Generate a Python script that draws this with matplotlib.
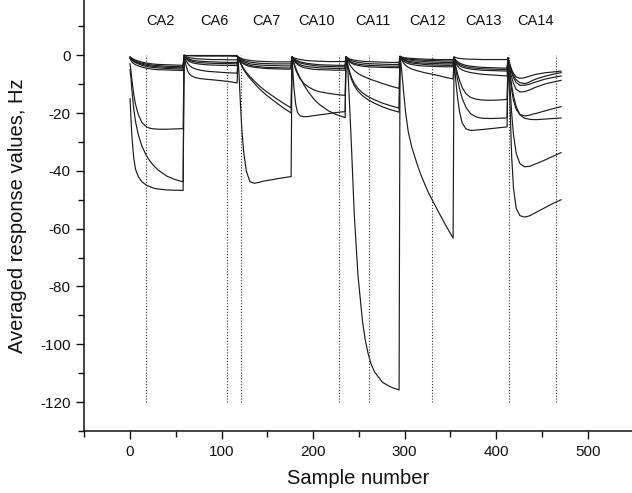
import matplotlib
matplotlib.use("Agg")
import matplotlib.pyplot as plt
from matplotlib.ticker import MultipleLocator

plt.rcParams['font.family'] = ['Liberation Sans', 'DejaVu Sans']
plt.rcParams['axes.unicode_minus'] = False

# ---- data ----
segment_names = ["CA2", "CA6", "CA7", "CA10", "CA11", "CA12", "CA13", "CA14"]
segment_starts = [0, 59, 118, 177, 236, 295, 354, 413]
label_x = [33, 92, 149, 204, 265, 325, 386, 443]
marker_x = [17.7, 105.7, 121.6, 228.6, 260.8, 330.0, 413.6, 465.6]
offsets = [0, 1, 2, 4, 6, 9, 13, 18, 21, 24, 27, 31, 40, 49, 58]

ca2 = [
    [-0.5, -0.8, -1.0, -1.4, -1.7, -2.0, -2.4, -2.7, -2.85, -3.0, -3.1, -3.2, -3.3, -3.4, -3.5],
    [-0.7, -1.0, -1.3, -1.7, -2.0, -2.4, -2.8, -3.1, -3.25, -3.4, -3.5, -3.6, -3.8, -3.9, -4.0],
    [-0.9, -1.2, -1.5, -1.9, -2.3, -2.7, -3.1, -3.5, -3.65, -3.8, -3.9, -4.0, -4.2, -4.3, -4.4],
    [-1.0, -1.4, -1.7, -2.2, -2.6, -3.0, -3.5, -3.9, -4.05, -4.2, -4.3, -4.4, -4.6, -4.7, -4.8],
    [-1.2, -1.8, -2.3, -2.9, -3.3, -3.7, -4.1, -4.5, -4.65, -4.8, -4.9, -5.0, -5.1, -5.2, -5.3],
    [-3.0, -5.5, -8.5, -13.5, -17.0, -20.5, -23.3, -24.8, -25.2, -25.4, -25.5, -25.6, -25.6, -25.5, -25.4],
    [-5.0, -8.0, -12.0, -18.5, -23.0, -27.5, -31.5, -34.8, -36.3, -37.5, -38.6, -39.8, -41.8, -43.0, -43.8],
    [-15.0, -22.0, -28.0, -35.5, -39.5, -42.0, -43.8, -45.0, -45.4, -45.8, -46.1, -46.3, -46.6, -46.7, -46.8],
]
ca6 = [
    [0.0, 0.0, -0.1, -0.1, -0.1, -0.1, -0.1, -0.1, -0.1, -0.1, -0.1, -0.1, -0.1, -0.1, -0.1],
    [0.0, -0.1, -0.1, -0.2, -0.2, -0.2, -0.3, -0.3, -0.3, -0.3, -0.3, -0.3, -0.3, -0.3, -0.4],
    [-0.1, -0.3, -0.5, -0.7, -0.9, -1.0, -1.2, -1.3, -1.35, -1.4, -1.45, -1.5, -1.5, -1.6, -1.6],
    [-0.1, -0.4, -0.7, -1.1, -1.4, -1.7, -1.9, -2.1, -2.15, -2.2, -2.25, -2.3, -2.4, -2.5, -2.5],
    [-0.1, -0.5, -0.9, -1.4, -1.8, -2.1, -2.4, -2.6, -2.65, -2.7, -2.75, -2.8, -2.9, -2.9, -3.0],
    [-0.1, -0.6, -1.1, -1.7, -2.2, -2.6, -2.9, -3.1, -3.2, -3.3, -3.35, -3.4, -3.5, -3.5, -3.6],
    [-0.1, -0.9, -1.7, -2.8, -3.6, -4.3, -4.8, -5.2, -5.35, -5.5, -5.6, -5.7, -5.9, -6.1, -6.2],
    [-0.1, -1.8, -3.4, -5.5, -6.6, -7.3, -7.8, -8.1, -8.2, -8.3, -8.4, -8.5, -8.8, -9.1, -9.6],
]
ca7 = [
    [-0.5, -0.7, -0.9, -1.2, -1.4, -1.6, -1.8, -2.0, -2.05, -2.1, -2.15, -2.2, -2.3, -2.3, -2.3],
    [-0.6, -0.9, -1.1, -1.5, -1.8, -2.1, -2.4, -2.6, -2.7, -2.8, -2.85, -2.9, -3.0, -3.0, -3.0],
    [-0.7, -1.0, -1.3, -1.8, -2.2, -2.6, -3.0, -3.2, -3.3, -3.4, -3.45, -3.5, -3.6, -3.7, -3.7],
    [-0.8, -1.2, -1.6, -2.2, -2.7, -3.1, -3.5, -3.8, -3.9, -4.0, -4.1, -4.2, -4.3, -4.4, -4.4],
    [-0.9, -1.4, -1.8, -2.5, -3.0, -3.5, -3.9, -4.2, -4.3, -4.4, -4.5, -4.6, -4.7, -4.8, -4.8],
    [-0.8, -1.5, -2.2, -3.4, -4.5, -5.9, -7.4, -9.0, -9.9, -10.8, -11.6, -12.6, -14.6, -16.5, -18.2],
    [-0.8, -1.6, -2.4, -3.7, -4.9, -6.4, -8.0, -9.8, -10.8, -11.8, -12.7, -13.8, -16.0, -18.1, -20.0],
    [-0.5, -6.0, -13.0, -25.0, -33.0, -40.0, -43.8, -44.3, -44.1, -43.9, -43.6, -43.4, -42.9, -42.4, -42.0],
]
ca10 = [
    [-0.5, -0.7, -0.9, -1.1, -1.3, -1.5, -1.7, -1.9, -1.95, -2.0, -2.05, -2.1, -2.2, -2.2, -2.2],
    [-0.6, -0.9, -1.2, -1.6, -1.9, -2.3, -2.6, -2.9, -3.0, -3.1, -3.2, -3.3, -3.4, -3.5, -3.5],
    [-0.7, -1.1, -1.4, -1.9, -2.3, -2.7, -3.0, -3.3, -3.45, -3.6, -3.7, -3.8, -3.9, -4.0, -4.0],
    [-0.8, -1.3, -1.7, -2.3, -2.8, -3.3, -3.7, -4.0, -4.1, -4.2, -4.3, -4.4, -4.5, -4.6, -4.6],
    [-0.8, -1.4, -1.9, -2.6, -3.2, -3.8, -4.3, -4.6, -4.75, -4.9, -4.95, -5.0, -5.1, -5.2, -5.2],
    [-0.6, -1.8, -3.0, -5.0, -6.5, -8.2, -9.8, -11.0, -11.5, -12.0, -12.35, -12.7, -13.2, -13.6, -13.9],
    [-0.6, -1.6, -2.6, -4.4, -6.0, -8.0, -10.3, -12.8, -14.0, -15.2, -16.2, -17.3, -19.3, -20.6, -21.6],
    [-0.5, -6.0, -11.0, -17.0, -19.8, -21.0, -21.3, -21.2, -21.05, -20.9, -20.75, -20.6, -20.2, -19.8, -19.5],
]
ca11 = [
    [-0.5, -0.8, -1.0, -1.3, -1.5, -1.7, -1.9, -2.1, -2.15, -2.2, -2.25, -2.3, -2.4, -2.5, -2.5],
    [-0.6, -0.9, -1.2, -1.6, -1.9, -2.2, -2.5, -2.7, -2.8, -2.9, -2.95, -3.0, -3.1, -3.2, -3.2],
    [-0.7, -1.1, -1.5, -2.0, -2.4, -2.8, -3.1, -3.3, -3.4, -3.5, -3.55, -3.6, -3.7, -3.8, -3.8],
    [-0.8, -1.3, -1.7, -2.3, -2.8, -3.2, -3.5, -3.8, -3.9, -4.0, -4.05, -4.1, -4.2, -4.3, -4.3],
    [-0.5, -1.3, -2.0, -3.2, -4.2, -5.3, -6.3, -7.2, -7.6, -8.0, -8.4, -8.8, -9.8, -10.7, -11.5],
    [-0.5, -2.0, -3.4, -5.8, -7.7, -9.7, -11.5, -13.0, -13.7, -14.3, -14.8, -15.4, -16.6, -17.5, -18.3],
    [-0.5, -2.2, -3.8, -6.4, -8.4, -10.5, -12.4, -14.0, -14.7, -15.4, -15.9, -16.6, -17.9, -18.9, -19.7],
    [-1.0, -3.0, -5.0, -18.0, -32.0, -55.0, -76.0, -92.0, -98.5, -103.0, -106.5, -109.5, -113.2, -114.8, -115.8],
]
ca12 = [
    [-0.3, -0.5, -0.6, -0.8, -0.9, -1.0, -1.1, -1.2, -1.25, -1.3, -1.35, -1.4, -1.5, -1.5, -1.5],
    [-0.4, -0.6, -0.8, -1.0, -1.2, -1.3, -1.5, -1.6, -1.65, -1.7, -1.75, -1.8, -1.9, -2.0, -2.0],
    [-0.5, -0.7, -0.9, -1.2, -1.4, -1.6, -1.8, -2.0, -2.05, -2.1, -2.2, -2.3, -2.4, -2.5, -2.5],
    [-0.5, -0.8, -1.1, -1.5, -1.8, -2.1, -2.3, -2.5, -2.6, -2.7, -2.75, -2.8, -2.9, -3.0, -3.0],
    [-0.6, -0.9, -1.2, -1.7, -2.0, -2.4, -2.7, -2.9, -3.0, -3.1, -3.2, -3.3, -3.4, -3.5, -3.5],
    [-0.7, -1.1, -1.5, -2.1, -2.5, -2.9, -3.2, -3.5, -3.6, -3.7, -3.75, -3.8, -3.9, -4.0, -4.0],
    [-0.5, -1.2, -1.8, -2.8, -3.5, -4.2, -4.8, -5.3, -5.55, -5.8, -6.05, -6.3, -6.9, -7.6, -8.2],
    [-1.0, -3.0, -6.0, -13.0, -19.5, -26.5, -32.0, -37.0, -39.8, -42.3, -44.6, -47.5, -53.0, -58.3, -63.3],
]
ca13 = [
    [-0.5, -0.7, -0.8, -1.0, -1.1, -1.2, -1.3, -1.4, -1.4, -1.4, -1.45, -1.5, -1.5, -1.5, -1.5],
    [-0.8, -1.3, -1.7, -2.3, -2.7, -3.1, -3.5, -3.8, -3.9, -4.0, -4.1, -4.2, -4.3, -4.4, -4.5],
    [-0.9, -1.5, -2.0, -2.7, -3.1, -3.6, -4.0, -4.3, -4.4, -4.5, -4.6, -4.7, -4.8, -4.9, -5.0],
    [-1.0, -1.7, -2.3, -3.1, -3.6, -4.1, -4.5, -4.8, -4.9, -5.0, -5.1, -5.2, -5.3, -5.4, -5.5],
    [-1.0, -2.0, -2.8, -3.8, -4.5, -5.1, -5.6, -6.0, -6.15, -6.3, -6.45, -6.6, -6.8, -7.0, -7.2],
    [-1.0, -2.5, -4.0, -6.5, -8.7, -11.2, -13.3, -14.6, -14.9, -15.2, -15.35, -15.5, -15.6, -15.5, -15.3],
    [-1.0, -3.0, -5.0, -8.5, -11.5, -15.0, -18.0, -20.2, -20.8, -21.3, -21.6, -21.8, -21.9, -21.8, -21.7],
    [-1.0, -5.0, -9.0, -15.0, -19.5, -23.5, -25.5, -26.0, -26.0, -25.9, -25.8, -25.7, -25.4, -25.1, -24.8],
]
ca14 = [
    [-1.0, -2.0, -3.0, -5.0, -6.3, -7.5, -8.0, -7.8, -7.5, -7.2, -6.9, -6.6, -6.1, -5.8, -5.5],
    [-1.0, -2.2, -3.4, -5.5, -7.0, -8.5, -9.5, -9.8, -9.6, -9.2, -8.7, -8.2, -7.3, -6.6, -6.0],
    [-1.0, -2.5, -3.8, -6.0, -7.8, -9.5, -10.4, -10.4, -10.2, -10.0, -9.6, -9.2, -8.3, -7.7, -7.2],
    [-1.0, -3.0, -4.8, -7.6, -9.8, -11.8, -12.7, -12.6, -12.3, -12.0, -11.5, -11.0, -10.0, -9.3, -8.7],
    [-1.0, -4.0, -7.0, -12.0, -15.6, -18.8, -20.5, -21.0, -20.9, -20.7, -20.4, -20.1, -19.3, -18.5, -17.8],
    [-1.0, -3.5, -6.0, -10.5, -14.0, -17.8, -20.6, -21.8, -22.0, -22.2, -22.25, -22.3, -22.1, -21.9, -21.7],
    [-1.0, -5.5, -10.0, -20.0, -27.5, -34.0, -37.5, -38.6, -38.5, -38.4, -38.0, -37.5, -36.3, -35.0, -33.7],
    [-1.0, -8.0, -15.0, -35.0, -46.0, -53.0, -55.5, -56.0, -55.8, -55.5, -55.0, -54.3, -52.8, -51.3, -50.0],
]
segments = [ca2, ca6, ca7, ca10, ca11, ca12, ca13, ca14]

# ---- figure ----
fig = plt.figure(figsize=(6.32, 4.93), dpi=100)
ax = fig.add_axes([84.3 / 632, 1 - 431 / 493, 1 - 84.3 / 632, 431 / 493])

n_sensors = len(ca2)
for i in range(n_sensors):
    xs, ys = [], []
    for start, seg in zip(segment_starts, segments):
        xs.extend([start + o for o in offsets])
        ys.extend(seg[i])
    ax.plot(xs, ys, color='#1c1c1c', lw=0.85, solid_joinstyle='round')

for mx in marker_x:
    ax.plot([mx, mx], [-120, 0], color='#333333', lw=0.8, linestyle=(0, (1, 1.6)))

for name, lx in zip(segment_names, label_x):
    ax.text(lx, 12.0, name, ha='center', va='center', fontsize=10.5, color='#111111')

ax.set_xlim(-50, 548.5)
ax.set_ylim(-130, 19.1)
ax.xaxis.set_major_locator(MultipleLocator(100))
ax.xaxis.set_minor_locator(MultipleLocator(50))
ax.yaxis.set_major_locator(MultipleLocator(20))
ax.yaxis.set_minor_locator(MultipleLocator(10))
ax.tick_params(which='both', direction='out', width=1.0, labelsize=11, colors='#111111')
ax.tick_params(which='major', length=6, pad=4)
ax.tick_params(which='minor', length=4)
for s in ['top', 'right']:
    ax.spines[s].set_visible(False)
for s in ['left', 'bottom']:
    ax.spines[s].set_linewidth(1.1)
    ax.spines[s].set_color('#111111')

ax.set_xlabel('Sample number', fontsize=14.5, color='#111111')
ax.set_ylabel('Averaged response values, Hz', fontsize=14.5, color='#111111')
ax.xaxis.set_label_coords(0.5, -0.088)
ax.yaxis.set_label_coords(-0.105, 0.5)

fig.savefig('out.png', dpi=100)
